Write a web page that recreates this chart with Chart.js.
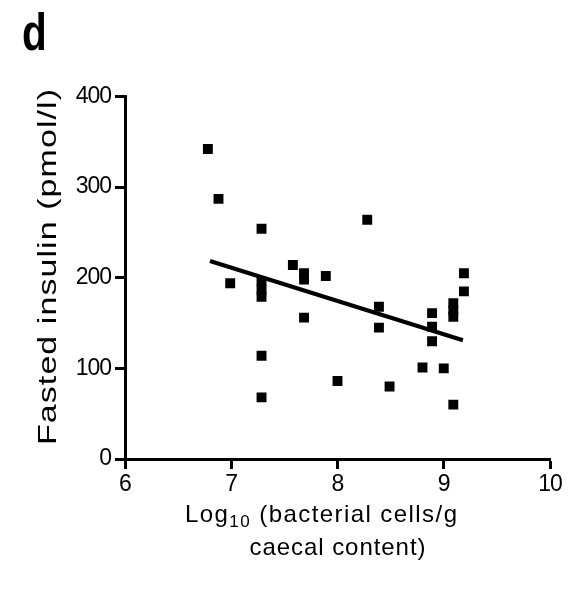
<!DOCTYPE html>
<html>
<head>
<meta charset="utf-8">
<script src="https://cdn.jsdelivr.net/npm/chart.js@4.4.1/dist/chart.umd.min.js"></script>
<style>
  html, body { margin: 0; padding: 0; background: #fff; }
  #wrap { width: 581px; height: 591px; position: relative; }
</style>
</head>
<body>
<div id="wrap"><canvas id="c" width="581" height="591"></canvas></div>
<script>
// ---- data ----
const logBacteria = [6.78, 6.88, 6.99, 7.285, 7.285, 7.285, 7.285, 7.285, 7.285, 7.58, 7.685, 7.685, 7.685, 7.89, 8.00, 8.28, 8.39, 8.39, 8.49, 8.80, 8.89, 8.89, 8.89, 9.00, 9.09, 9.09, 9.09, 9.09, 9.19, 9.19];
const insulin     = [342, 287, 194, 254, 196, 187, 179, 114, 68, 214, 205, 198, 156, 202, 86, 264, 168, 145, 80, 101, 161, 146, 130, 100, 172, 164, 157, 60, 205, 185];
const fitX = [6.80, 9.18];
const fitY = [218.5, 131];
const xTicks = [6, 7, 8, 9, 10];
const yTicks = [0, 100, 200, 300, 400];
const panelLabel = 'd';
const yTitle = 'Fasted insulin (pmol/l)';
const xTitleLine1 = [{ t: 'Log', sub: false }, { t: '10', sub: true }, { t: ' (bacterial cells/g', sub: false }];
const xTitleLine2 = 'caecal content)';

const FONT = "'Liberation Sans', Arial, Helvetica, sans-serif";

const scatterData = logBacteria.map((x, i) => ({ x: x, y: insulin[i] }));
const fitData = fitX.map((x, i) => ({ x: x, y: fitY[i] }));

// draw a run of text segments with letter spacing chosen so the run spans `width`
function drawSpaced(ctx, segs, x, y, width, size) {
  const fontFor = s => (s.sub ? Math.round(size * 0.72) : size) + 'px ' + FONT;
  let natural = 0, n = 0;
  segs.forEach(s => { ctx.font = fontFor(s); natural += ctx.measureText(s.t).width; n += s.t.length; });
  const sp = (width - natural) / Math.max(1, n - 1);
  let cx = x;
  segs.forEach(s => {
    ctx.font = fontFor(s);
    for (const ch of s.t) {
      ctx.fillText(ch, cx, y + (s.sub ? size * 0.22 : 0));
      cx += ctx.measureText(ch).width + sp;
    }
  });
}

const textPlugin = {
  id: 'texts',
  beforeDraw(chart) { chart.ctx.letterSpacing = '-1px'; },
  beforeDatasetsDraw(chart) { chart.ctx.letterSpacing = '0px'; },
  afterDraw(chart) {
    const ctx = chart.ctx;
    const area = chart.chartArea;
    ctx.save();
    ctx.letterSpacing = '0px';
    ctx.fillStyle = '#000';
    ctx.textAlign = 'left';
    ctx.textBaseline = 'alphabetic';
    // panel letter
    ctx.font = 'bold 52px ' + FONT;
    ctx.save();
    ctx.translate(22, 50);
    ctx.scale(0.78, 1);
    ctx.fillText(panelLabel, 0, 0);
    ctx.restore();
    // y title (rotated, glyphs condensed in height like the scan)
    ctx.save();
    ctx.translate(56, 445);
    ctx.rotate(-Math.PI / 2);
    ctx.scale(1, 0.78);
    drawSpaced(ctx, [{ t: yTitle, sub: false }], 0, 0, 356, 34);
    ctx.restore();
    // x title
    drawSpaced(ctx, xTitleLine1, 185, 522, 272, 24);
    const w2 = 176;
    const cx = (area.left + area.right) / 2;
    drawSpaced(ctx, [{ t: xTitleLine2, sub: false }], cx - w2 / 2, 555, w2, 24);
    ctx.restore();
  }
};

new Chart(document.getElementById('c'), {
  type: 'scatter',
  data: {
    datasets: [
      {
        label: 'data',
        data: scatterData,
        pointStyle: 'rect',
        pointRadius: 7,
        pointHoverRadius: 7,
        backgroundColor: '#000',
        borderColor: '#000',
        borderWidth: 0
      },
      {
        type: 'line',
        label: 'fit',
        data: fitData,
        borderColor: '#000',
        borderWidth: 4,
        pointRadius: 0,
        fill: false,
        tension: 0
      }
    ]
  },
  options: {
    responsive: false,
    animation: false,
    events: [],
    layout: { padding: { left: 0, top: 96.5, right: 31, bottom: 0 } },
    plugins: { legend: { display: false }, tooltip: { enabled: false } },
    scales: {
      x: {
        type: 'linear',
        min: 6, max: 10,
        afterBuildTicks(scale) { scale.ticks = xTicks.map(v => ({ value: v })); },
        afterFit(scale) { scale.height = 132; },
        border: { display: true, color: '#000', width: 3 },
        grid: { display: true, drawOnChartArea: false, drawTicks: true, tickLength: 10, tickWidth: 3, tickColor: '#000' },
        ticks: { color: '#000', font: { family: FONT, size: 23 }, padding: 2, maxRotation: 0 },
        title: { display: false }
      },
      y: {
        type: 'linear',
        min: 0, max: 400,
        afterBuildTicks(scale) { scale.ticks = yTicks.map(v => ({ value: v })); },
        afterFit(scale) { scale.width = 125; },
        border: { display: true, color: '#000', width: 3 },
        grid: { display: true, drawOnChartArea: false, drawTicks: true, tickLength: 10, tickWidth: 3, tickColor: '#000' },
        ticks: { color: '#000', font: { family: FONT, size: 23 }, padding: 4 },
        title: { display: false }
      }
    }
  },
  plugins: [textPlugin]
});
</script>
</body>
</html>
